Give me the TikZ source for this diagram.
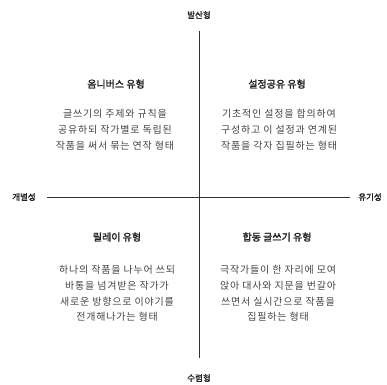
\documentclass[tikz,border=0pt]{standalone}
\usepackage{fontspec}
\newfontfamily\kr{Noto Sans CJK KR}
\newfontfamily\krs{Noto Sans CJK KR}[LetterSpace=8]
\newfontfamily\krb{Noto Sans CJK KR}[FakeBold=2]
\definecolor{txt}{HTML}{444444}
\definecolor{ttl}{HTML}{222222}
\begin{document}
\begin{tikzpicture}[x=1pt,y=-1pt,
  axis/.style={draw=black!80,line width=0.9pt},
  lbl/.style={font=\krb\fontsize{8.5}{10}\selectfont,text=ttl,inner sep=0pt},
  title/.style={font=\krb\fontsize{10}{12}\selectfont,text=ttl,inner sep=0pt},
  body/.style={font=\krs\fontsize{10}{15.8}\selectfont,text=txt,align=center,inner sep=0pt}]
\useasboundingbox (0,0) rectangle (387,384);
\node[lbl] (top) at (199,15) {발산형};
\node[lbl] (bot) at (199,378) {수렴형};
\node[lbl] (left) at (24,197) {개별성};
\node[lbl] (right) at (370,197) {유기성};
\coordinate (vt) at (199,31);
\coordinate (vb) at (199,358);
\coordinate (hl) at (47,197);
\coordinate (hr) at (350,197);
\draw[axis] (vt) -- (vb);
\draw[axis] (hl) -- (hr);
\node[title] (t1) at (116,84) {옴니버스 유형};
\node[body] (b1) at (115,130) {글쓰기의 주제와 규칙을\\공유하되 작가별로 독립된\\작품을 써서 묶는 연작 형태};
\node[title] (t2) at (277,84) {설정공유 유형};
\node[body] (b2) at (279,130) {기초적인 설정을 합의하여\\구성하고 이 설정과 연계된\\작품을 각자 집필하는 형태};
\node[title] (t3) at (117,237) {릴레이 유형};
\node[body] (b3) at (117,293.5) {하나의 작품을 나누어 쓰되\\바통을 넘겨받은 작가가\\새로운 방향으로 이야기를\\전개해나가는 형태};
\node[title] (t4) at (277,237) {합동 글쓰기 유형};
\node[body] (b4) at (278,293.5) {극작가들이 한 자리에 모여\\앉아 대사와 지문을 번갈아\\쓰면서 실시간으로 작품을\\집필하는 형태};
\end{tikzpicture}
\end{document}
